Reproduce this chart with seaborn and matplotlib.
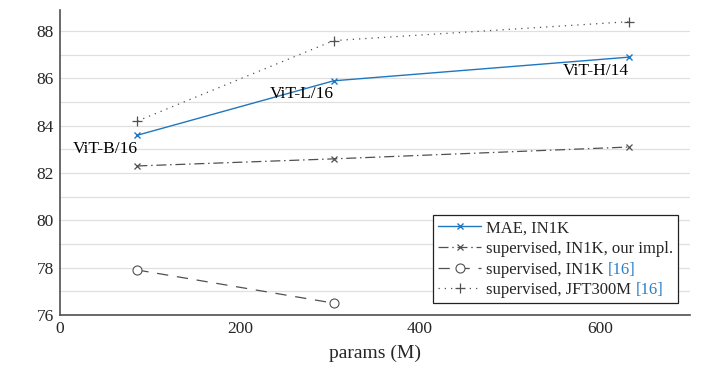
import pandas as pd
import matplotlib.pyplot as plt
import seaborn as sns
from matplotlib.ticker import MultipleLocator

# model sizes (M params) and ImageNet top-1 accuracy
params = [86, 304, 632]
model_names = ['ViT-B/16', 'ViT-L/16', 'ViT-H/14']
mae_in1k = [83.6, 85.9, 86.9]
sup_ours = [82.3, 82.6, 83.1]
sup_ref_params = [86, 304]
sup_ref = [77.9, 76.5]
jft_ref = [84.2, 87.6, 88.4]

blue = '#1f77bf'
cite_blue = '#2f7fc4'
gray = '#505050'

sns.set_style('white')
plt.rcParams['font.family'] = ['Liberation Serif', 'DejaVu Serif']
plt.rcParams['mathtext.fontset'] = 'stix'

fig, ax = plt.subplots(figsize=(7.1, 3.79), dpi=100)
fig.subplots_adjust(left=0.0845, right=0.972, bottom=0.169, top=0.974)

sns.lineplot(x=params, y=mae_in1k, ax=ax, color=blue, lw=1.0,
             marker='x', markersize=5, mew=1.0, mec=blue, label='MAE, IN1K')
sns.lineplot(x=params, y=sup_ours, ax=ax, color=gray, lw=0.9,
             linestyle=(0, (8, 3, 1.2, 3)), marker='x', markersize=5, mew=0.9,
             mec=gray, label='supervised, IN1K, our impl.')
sns.lineplot(x=sup_ref_params, y=sup_ref, ax=ax, color=gray, lw=0.9,
             linestyle=(0, (9, 7)), marker='o', markersize=6.5, mew=0.8,
             mfc='white', mec=gray, label='supervised, IN1K')
sns.lineplot(x=params, y=jft_ref, ax=ax, color=gray, lw=0.9,
             linestyle=(0, (1, 4)), marker='+', markersize=7, mew=0.9,
             mec=gray, label='supervised, JFT300M')

for name, xp, yp in zip(model_names, params, mae_in1k):
    ax.annotate(name, xy=(xp, yp), xytext=(0, -4), textcoords='offset points',
                ha='right', va='top', fontsize=12.5, color='black')

ax.set_xlim(0, 700)
ax.set_ylim(76, 88.9)
ax.xaxis.set_major_locator(MultipleLocator(200))
ax.yaxis.set_major_locator(MultipleLocator(2))
ax.yaxis.set_minor_locator(MultipleLocator(1))
ax.grid(axis='y', which='both', color='#e0e0e0', lw=0.9)
ax.set_axisbelow(True)
ax.tick_params(axis='y', which='both', direction='inout', length=5,
               width=0.9, color=gray, labelsize=12.5, pad=2)
ax.tick_params(axis='x', which='major', direction='in', length=4,
               width=0.9, color=gray, labelsize=12.5, pad=4)
for side in ['top', 'right']:
    ax.spines[side].set_visible(False)
for side in ['left', 'bottom']:
    ax.spines[side].set_color(gray)
    ax.spines[side].set_linewidth(1.2)
ax.set_xlabel('params (M)', fontsize=14, labelpad=6)
ax.set_ylabel('')

leg = ax.legend(loc='lower right', fontsize=12, frameon=True, fancybox=False,
                edgecolor='#222222', framealpha=1, borderaxespad=0.7,
                handlelength=2.6, handletextpad=0.3, labelspacing=0.28,
                borderpad=0.3)
leg.get_frame().set_linewidth(0.9)

# blue citation marks after two legend entries
fig.canvas.draw()
for txt in leg.get_texts():
    if txt.get_text() in ('supervised, IN1K', 'supervised, JFT300M'):
        ax.annotate('[16]', xy=(1, 0), xycoords=txt, xytext=(3, 0),
                    textcoords='offset points', ha='left', va='bottom',
                    fontsize=12, color=cite_blue, zorder=10)

plt.savefig('out.png', dpi=100, facecolor='white')
plt.close(fig)
